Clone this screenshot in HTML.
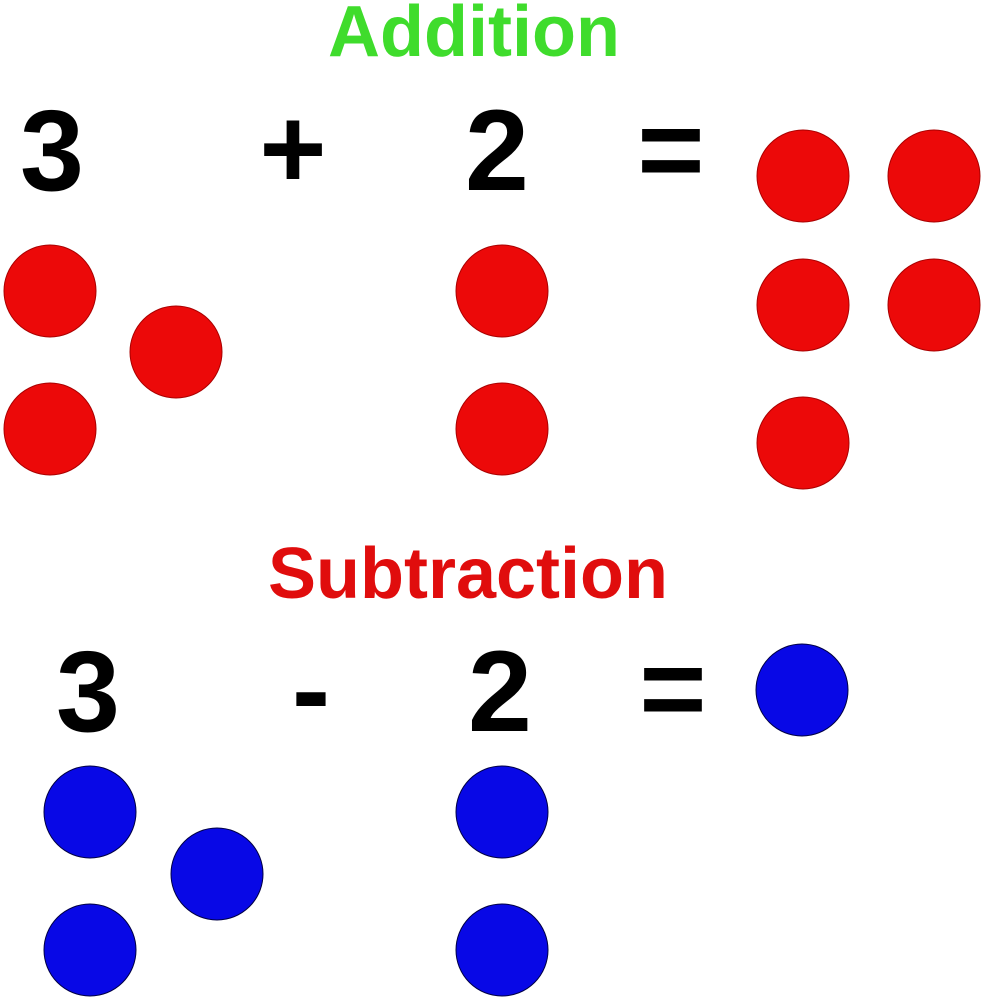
<!DOCTYPE html>
<html><head><meta charset="utf-8"><style>
html,body{margin:0;padding:0;background:#fff;width:985px;height:1000px;overflow:hidden}
svg{display:block}
text{font-family:"Liberation Sans",sans-serif;font-weight:bold}
</style></head><body>
<svg width="985" height="1000" viewBox="0 0 985 1000">
<g font-size="72" text-anchor="middle">
<text x="474" y="56" fill="#3fdc2c">Addition</text>
<text x="468" y="598" fill="#e00d0d">Subtraction</text>
</g>
<g font-size="115" text-anchor="middle" fill="#000">
<text x="52" y="190">3</text>
<text x="293" y="188">+</text>
<text x="497" y="190">2</text>
<text x="671" y="189">=</text>
<text x="88" y="731">3</text>
<text x="311" y="729">-</text>
<text x="500" y="731">2</text>
<text x="673" y="728">=</text>
</g>
<g fill="#ec0909" stroke="#a00" stroke-width="1">
<circle cx="50" cy="291" r="46"/><circle cx="176" cy="352" r="46"/><circle cx="50" cy="429" r="46"/>
<circle cx="502" cy="291" r="46"/><circle cx="502" cy="429" r="46"/>
<circle cx="803" cy="176" r="46"/><circle cx="934" cy="176" r="46"/>
<circle cx="803" cy="305" r="46"/><circle cx="934" cy="305" r="46"/>
<circle cx="803" cy="443" r="46"/>
</g>
<g fill="#0808e6" stroke="#004" stroke-width="1">
<circle cx="802" cy="690" r="46"/>
<circle cx="90" cy="812" r="46"/><circle cx="217" cy="874" r="46"/><circle cx="90" cy="950" r="46"/>
<circle cx="502" cy="812" r="46"/><circle cx="502" cy="950" r="46"/>
</g>
</svg>
</body></html>
